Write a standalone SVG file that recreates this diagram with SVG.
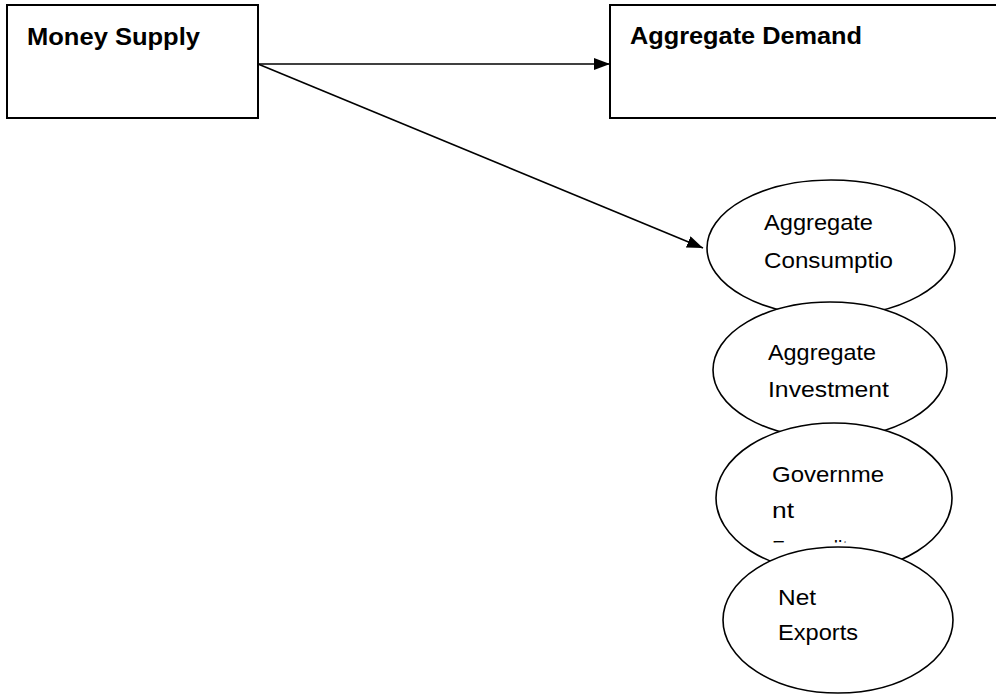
<svg xmlns="http://www.w3.org/2000/svg" width="996" height="695" viewBox="0 0 996 695">
<style>
.box{fill:#fff;stroke:#000;stroke-width:2}
.ell{fill:#fff;stroke:#000;stroke-width:1.6}
.bt{font-family:"Liberation Sans",Arial,sans-serif;font-weight:bold;font-size:24px;fill:#000}
.t{font-family:"Liberation Sans",Arial,sans-serif;font-size:22px;fill:#000}
.ln{stroke:#000;stroke-width:1.6;fill:none}
</style>
<defs>
<marker id="ah" viewBox="0 0 16 12" refX="16" refY="6" markerWidth="16" markerHeight="12" markerUnits="userSpaceOnUse" orient="auto">
<path d="M0,0 L16,6 L0,12 Z" fill="#000"/>
</marker>
<clipPath id="govclip"><rect x="760" y="400" width="120" height="142.5"/></clipPath>
</defs>
<rect width="996" height="695" fill="#fff"/>
<g id="money-supply">
<rect class="box" x="7" y="5" width="251" height="113"/>
<text class="bt" x="27" y="45" textLength="173" lengthAdjust="spacingAndGlyphs">Money Supply</text>
</g>
<g id="aggregate-demand">
<rect class="box" x="610" y="5" width="400" height="113"/>
<text class="bt" x="630" y="44" textLength="232" lengthAdjust="spacingAndGlyphs">Aggregate Demand</text>
</g>
<g id="connectors">
<line class="ln" x1="258" y1="64" x2="610" y2="64" marker-end="url(#ah)"/>
<line class="ln" x1="258" y1="64" x2="703" y2="248" marker-end="url(#ah)"/>
</g>
<g id="aggregate-consumption">
<ellipse class="ell" cx="831" cy="248" rx="124" ry="68"/>
<text class="t" x="764" y="230" textLength="109" lengthAdjust="spacingAndGlyphs">Aggregate</text>
<text class="t" x="764" y="268" textLength="129" lengthAdjust="spacingAndGlyphs">Consumptio</text>
</g>
<g id="aggregate-investment">
<ellipse class="ell" cx="830" cy="370" rx="117" ry="68"/>
<text class="t" x="768" y="360" textLength="108" lengthAdjust="spacingAndGlyphs">Aggregate</text>
<text class="t" x="768" y="397" textLength="121" lengthAdjust="spacingAndGlyphs">Investment</text>
</g>
<g id="government-expenditure">
<ellipse class="ell" cx="834" cy="498" rx="118" ry="75"/>
<text class="t" x="772" y="482" textLength="112" lengthAdjust="spacingAndGlyphs">Governme</text>
<text class="t" x="772" y="518" textLength="22" lengthAdjust="spacingAndGlyphs">nt</text>
<text class="t" x="772" y="556" clip-path="url(#govclip)" textLength="104" lengthAdjust="spacingAndGlyphs">Expenditure</text>
</g>
<g id="net-exports">
<ellipse class="ell" cx="838" cy="620" rx="115" ry="73"/>
<text class="t" x="778" y="605" textLength="38" lengthAdjust="spacingAndGlyphs">Net</text>
<text class="t" x="778" y="640" textLength="80" lengthAdjust="spacingAndGlyphs">Exports</text>
</g>
</svg>
